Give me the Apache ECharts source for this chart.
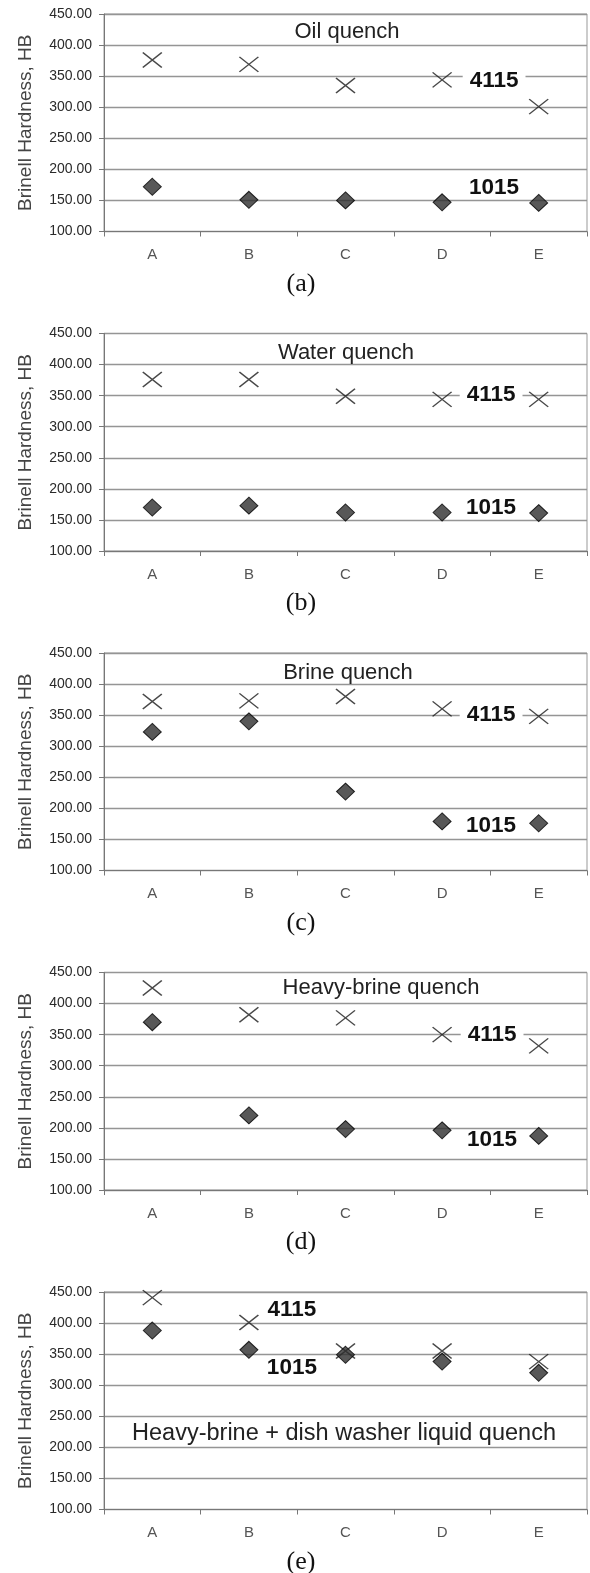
<!DOCTYPE html>
<html>
<head>
<meta charset="utf-8">
<script src="https://cdn.jsdelivr.net/npm/echarts@6/dist/echarts.min.js"></script>
<style>
html,body{margin:0;padding:0;background:#fff;}
#chart{width:590px;height:1573px;}
</style>
</head>
<body>
<div id="chart"></div>
<script>
// ---- data ----
const categories = ['A', 'B', 'C', 'D', 'E'];
const yMin = 100, yMax = 450, yStep = 50;

const panelTitles = ['Oil quench', 'Water quench', 'Brine quench', 'Heavy-brine quench', 'Heavy-brine + dish washer liquid quench'];
const captions = ['(a)', '(b)', '(c)', '(d)', '(e)'];

const steel4115_a = [376, 369, 335, 344, 301];
const steel1015_a = [172, 151, 150, 147, 146];
const steel4115_b = [376, 376, 349, 344, 344];
const steel1015_b = [170, 173, 162, 162, 161];
const steel4115_c = [372, 373, 380, 360, 348];
const steel1015_c = [323, 340, 227, 179, 176];
const steel4115_d = [425, 382, 377, 350, 332];
const steel1015_d = [370, 220, 198, 196, 187];
const steel4115_e = [441, 401, 355, 355, 338];
const steel1015_e = [388, 357, 349, 338, 320];

// where the series name labels sit (category, value)
const label4115At = [['D', 342], ['D', 352], ['D', 350], ['D', 350], ['B', 421]];
const label1015At = [['D', 171], ['D', 170], ['D', 172], ['D', 180], ['B', 328]];

const series4115 = [steel4115_a, steel4115_b, steel4115_c, steel4115_d, steel4115_e];
const series1015 = [steel1015_a, steel1015_b, steel1015_c, steel1015_d, steel1015_e];

// ---- layout / style ----
const plotLeft = 104, plotRight = 3, plotTop0 = 14, panelStep = 319.5, plotH = 217.5;
const titleCx = [347, 346, 348, 381, 344];
const titleDy = [18, 19, 19.5, 15, 142];
const titleSize = [22, 22, 22, 22, 23.5];
const labelDx = [52, 49, 49, 50, 43];

const grids = [], xAxes = [], yAxes = [], seriesList = [], graphics = [];
const sans = "'Liberation Sans', Arial, sans-serif";

for (let i = 0; i < 5; i++) {
  const top = plotTop0 + panelStep * i;
  grids.push({left: plotLeft, right: plotRight, top: top, height: plotH,
    show: true, borderColor: '#999', borderWidth: 1, backgroundColor: 'transparent'});
  xAxes.push({type: 'category', gridIndex: i, data: categories, boundaryGap: true,
    axisLine: {lineStyle: {color: '#777', width: 1}},
    axisTick: {show: true, length: 5, lineStyle: {color: '#777'}},
    axisLabel: {color: '#555', fontSize: 15, fontFamily: sans, margin: 16},
    splitLine: {show: false}});
  yAxes.push({type: 'value', gridIndex: i, min: yMin, max: yMax, interval: yStep,
    name: 'Brinell Hardness, HB', nameLocation: 'middle', nameGap: 69,
    nameTextStyle: {color: '#444', fontSize: 19, fontFamily: sans},
    axisLine: {show: true, lineStyle: {color: '#777', width: 1}},
    axisTick: {show: true, length: 5, lineStyle: {color: '#777'}},
    axisLabel: {color: '#2a2a2a', fontSize: 14, fontFamily: sans, margin: 12,
      formatter: v => v.toFixed(2)},
    splitLine: {show: true, lineStyle: {color: '#959595', width: 1.3}}});

  const lblStyle = (txt) => ({show: true, position: 'inside', formatter: txt,
    color: '#111', fontSize: 22.5, fontWeight: 'bold', fontFamily: sans,
    backgroundColor: '#fff', padding: [1, 7, 0, 7]});

  seriesList.push({type: 'scatter', name: '4115', xAxisIndex: i, yAxisIndex: i,
    data: series4115[i],
    symbol: 'path://M0,0L10,10M10,0L0,10', symbolSize: [19, 15],
    itemStyle: {color: 'none', borderColor: '#1a1a1a', borderWidth: 1.4},
    z: 3,
    markPoint: {symbol: 'rect', symbolSize: 0, silent: true, animation: false,
      data: [{coord: label4115At[i], label: Object.assign(lblStyle('4115'), {offset: [labelDx[i], 0]})}]}
  });
  seriesList.push({type: 'scatter', name: '1015', xAxisIndex: i, yAxisIndex: i,
    data: series1015[i],
    symbol: 'diamond', symbolSize: [18, 17],
    itemStyle: {color: '#2e2e2e', borderColor: '#000', borderWidth: 1},
    z: 4,
    markPoint: {symbol: 'rect', symbolSize: 0, silent: true, animation: false,
      data: [{coord: label1015At[i], label: Object.assign(lblStyle('1015'), {offset: [labelDx[i], 0], backgroundColor: 'transparent'})}]}
  });

  graphics.push({type: 'text', x: titleCx[i], y: top + titleDy[i], silent: true, z: 10,
    style: {text: panelTitles[i], fill: '#222', font: titleSize[i] + 'px ' + sans,
      textAlign: 'center', textVerticalAlign: 'middle',
      backgroundColor: i === 4 ? '#fff' : null}});
  graphics.push({type: 'text', x: 301, y: top + 270, silent: true,
    style: {text: captions[i], fill: '#111', font: "26px 'Liberation Serif', 'Times New Roman', serif",
      textAlign: 'center', textVerticalAlign: 'middle'}});
}

const chart = echarts.init(document.getElementById('chart'), null, {renderer: 'canvas'});
chart.setOption({
  animation: false,
  backgroundColor: '#fff',
  grid: grids, xAxis: xAxes, yAxis: yAxes, series: seriesList,
  graphic: graphics
});
</script>
</body>
</html>
